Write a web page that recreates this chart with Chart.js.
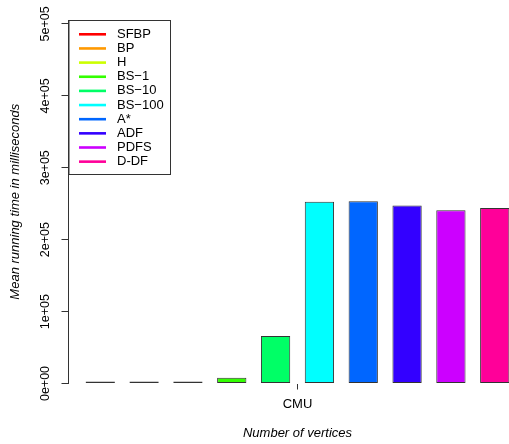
<!DOCTYPE html>
<html>
<head>
<meta charset="utf-8">
<script src="https://cdn.jsdelivr.net/npm/chart.js@4/dist/chart.umd.min.js"></script>
<style>
    html, body { margin: 0; padding: 0; overflow: hidden; background: #fff; }
    #wrap { width: 530px; height: 444px; }
</style>
</head>
<body>
<div id="wrap"><canvas id="chart" width="530" height="444"></canvas></div>
<script>
        /* ─────────────────────────────────────────────
           Data
        ───────────────────────────────────────────── */
        const CATEGORIES = ['CMU'];
        const SERIES_LABELS = ['SFBP', 'BP', 'H', 'BS\u22121', 'BS\u221210', 'BS\u2212100', 'A*', 'ADF', 'PDFS', 'D-DF'];
        const SERIES_VALUES = [1000, 1000, 1000, 8000, 66200, 252600, 253500, 247600, 241000, 244200];
        const SERIES_COLORS = ['#FF0000', '#FF9900', '#CCFF00', '#33FF00', '#00FF66', '#00FFFF', '#0066FF', '#3300FF', '#CC00FF', '#FF0099'];
        const Y_TICKS = [0, 100000, 200000, 300000, 400000, 500000];
        const Y_TICK_LABELS = ['0e+00', '1e+05', '2e+05', '3e+05', '4e+05', '5e+05'];

        const FONT = "'Liberation Sans', Arial, Helvetica, sans-serif";
        const INK = '#333';

        /* ─────────────────────────────────────────────
           Boxed legend in the top-left corner (R style)
        ───────────────────────────────────────────── */
        const boxLegend = {
            id: 'boxLegend',
            afterDraw(chart) {
                const { ctx, chartArea } = chart;
                const x0 = chartArea.left, y0 = chartArea.top;
                ctx.save();
                ctx.strokeStyle = INK;
                ctx.lineWidth = 1;
                ctx.strokeRect(x0 + 0.5, y0 + 0.5, 101.5, 154);
                ctx.font = '13px ' + FONT;
                ctx.textBaseline = 'middle';
                ctx.textAlign = 'left';
                chart.data.datasets.forEach((ds, i) => {
                    const y = y0 + 14.3 + i * 14.15;
                    ctx.strokeStyle = ds.backgroundColor;
                    ctx.lineWidth = 2.6;
                    ctx.beginPath();
                    ctx.moveTo(x0 + 10.5, y);
                    ctx.lineTo(x0 + 37.5, y);
                    ctx.stroke();
                    ctx.fillStyle = '#000';
                    ctx.fillText(ds.label, x0 + 48.5, y);
                });
                ctx.restore();
            }
        };

        /* ─────────────────────────────────────────────
           Chart
        ───────────────────────────────────────────── */
        new Chart(document.getElementById('chart'), {
            type: 'bar',
            data: {
                labels: CATEGORIES,
                datasets: SERIES_LABELS.map((label, i) => ({
                    label,
                    data: [SERIES_VALUES[i]],
                    backgroundColor: SERIES_COLORS[i],
                    borderColor: INK,
                    borderWidth: 1,
                    borderSkipped: false,
                    minBarLength: 2,
                    categoryPercentage: 0.957,
                    barPercentage: 0.668
                }))
            },
            options: {
                responsive: false,
                animation: false,
                devicePixelRatio: 1,
                layout: { padding: { left: 8, top: 20, right: 3.5, bottom: 0 } },
                plugins: {
                    legend: { display: false },
                    tooltip: { enabled: false }
                },
                scales: {
                    x: {
                        type: 'category',
                        offset: true,
                        grid: { offset: false, drawOnChartArea: false, drawTicks: true, tickLength: 6, color: INK },
                        border: { display: false },
                        ticks: { padding: 7, color: '#000', font: { family: FONT, size: 13 } },
                        title: {
                            display: true,
                            text: 'Number of vertices',
                            color: '#000',
                            font: { family: FONT, size: 13, style: 'italic' },
                            padding: { top: 0, bottom: 3 }
                        },
                        afterFit(scale) { scale.height = 60.5; }
                    },
                    y: {
                        min: 0,
                        max: 505500,
                        afterBuildTicks(scale) { scale.ticks = Y_TICKS.map(v => ({ value: v })); },
                        grid: { drawOnChartArea: false, drawTicks: true, tickLength: 7, color: INK },
                        border: { display: true, color: INK },
                        ticks: {
                            minRotation: 90,
                            maxRotation: 90,
                            crossAlign: 'center',
                            padding: -1.8,
                            color: '#000',
                            font: { family: FONT, size: 12.5 },
                            callback: (v) => Y_TICK_LABELS[Y_TICKS.indexOf(v)]
                        },
                        title: {
                            display: true,
                            text: 'Mean running time in milliseconds',
                            color: '#000',
                            font: { family: FONT, size: 13, style: 'italic' },
                            padding: { top: 0, bottom: 0 }
                        },
                        afterFit(scale) { scale.width = 60.5; }
                    }
                }
            },
            plugins: [boxLegend]
        });
</script>
</body>
</html>
